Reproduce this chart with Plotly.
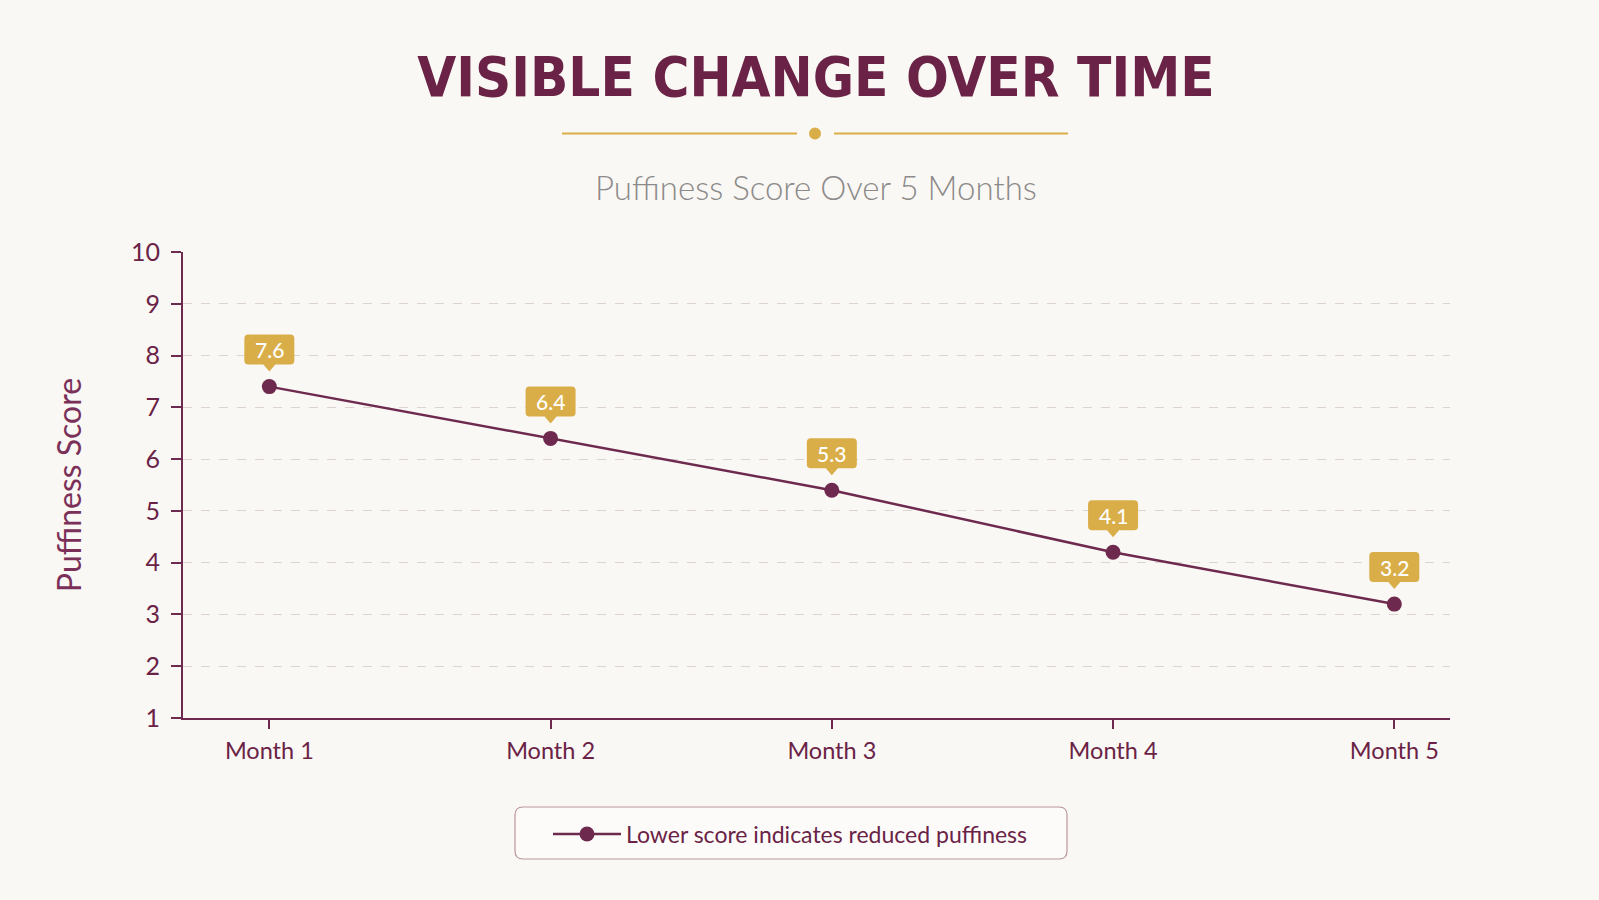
import plotly.graph_objects as go

# ---------------- data ----------------
months = ["Month 1", "Month 2", "Month 3", "Month 4", "Month 5"]
scores = [7.4, 6.4, 5.4, 4.2, 3.2]          # plotted marker positions
label_texts = ["7.6", "6.4", "5.3", "4.1", "3.2"]  # values shown in the badges
y_ticks = [1, 2, 3, 4, 5, 6, 7, 8, 9, 10]
series_name = "Lower score indicates reduced puffiness"
title_text = "VISIBLE CHANGE OVER TIME"
subtitle_text = "Puffiness Score Over 5 Months"
y_title = "Puffiness Score"

# ---------------- styling ----------------
W, H = 1599, 900
ML, MR, MT, MB = 183, 149, 252, 182
BG = "#faf8f4"
MAROON = "#6e2a4e"
DARK = "#6a2346"
GOLD = "#d9ae48"
FONT = "Lato"

pw = W - ML - MR
ph = H - MT - MB


def px(x):
    return (x - ML) / pw


def py(y):
    return (H - MB - y) / ph


fig = go.Figure()
x_idx = list(range(len(months)))
fig.add_trace(go.Scatter(
    x=x_idx, y=scores, mode="lines+markers", name=series_name,
    line=dict(color=MAROON, width=2.5),
    marker=dict(color=MAROON, size=15),
    hoverinfo="skip",
))

shapes = []
annotations = []

# value badges (rounded box + pointer), anchored at each point in pixels
bw, r = 25, 4
b0, b1 = 22, 52
badge = (f"M {-bw+r},{b0} L -6,{b0} L 0,{b0-7} L 6,{b0} L {bw-r},{b0} "
         f"Q {bw},{b0} {bw},{b0+r} L {bw},{b1-r} Q {bw},{b1} {bw-r},{b1} "
         f"L {-bw+r},{b1} Q {-bw},{b1} {-bw},{b1-r} L {-bw},{b0+r} "
         f"Q {-bw},{b0} {-bw+r},{b0} Z")
for i, (v, t) in enumerate(zip(scores, label_texts)):
    shapes.append(dict(type="path", xref="x", yref="y", xsizemode="pixel",
                       ysizemode="pixel", xanchor=i, yanchor=v, path=badge,
                       fillcolor=GOLD, line=dict(width=0), layer="above"))
    annotations.append(dict(x=i, y=v, xref="x", yref="y", text=t,
                            showarrow=False, yshift=(b0 + b1) / 2,
                            font=dict(family=FONT, size=21, color="white",
                                      weight=500)))

# decorative divider under title
dy = py(133.5)
shapes.append(dict(type="line", xref="paper", yref="paper", x0=px(562),
                   x1=px(797), y0=dy, y1=dy, line=dict(color=GOLD, width=2)))
shapes.append(dict(type="line", xref="paper", yref="paper", x0=px(834),
                   x1=px(1068), y0=dy, y1=dy, line=dict(color=GOLD, width=2)))
shapes.append(dict(type="circle", xref="paper", yref="paper", xsizemode="pixel",
                   ysizemode="pixel", xanchor=px(815), yanchor=dy, x0=-6, x1=6,
                   y0=-6, y1=6, fillcolor=GOLD, line=dict(width=0)))

# rounded legend frame
lx0, lx1, ly0, ly1, lr = 515, 1067, 807, 859, 8
wpx, hpx = lx1 - lx0, ly1 - ly0
frame = (f"M {lr},0 L {wpx-lr},0 Q {wpx},0 {wpx},{-lr} L {wpx},{-hpx+lr} "
         f"Q {wpx},{-hpx} {wpx-lr},{-hpx} L {lr},{-hpx} Q 0,{-hpx} 0,{-hpx+lr} "
         f"L 0,{-lr} Q 0,0 {lr},0 Z")
shapes.append(dict(type="path", xref="paper", yref="paper", xsizemode="pixel",
                   ysizemode="pixel", xanchor=px(lx0), yanchor=py(ly0),
                   path=frame, fillcolor="#fdfbf9",
                   line=dict(color="#b9959c", width=1.2), layer="below"))

annotations.append(dict(x=px(816), y=py(187), xref="paper", yref="paper",
                        xanchor="center", yanchor="middle",
                        text=subtitle_text, showarrow=False,
                        font=dict(family=FONT, size=33, color="#8c8a8a",
                                  weight=300)))

fig.update_layout(
    width=W, height=H,
    margin=dict(l=ML, r=MR, t=MT, b=MB, autoexpand=False),
    paper_bgcolor=BG, plot_bgcolor=BG,
    title=dict(text=f"<b>{title_text}</b>", x=816 / W, xanchor="center",
               y=1 - 76 / H, yanchor="middle", yref="container",
               font=dict(family="DejaVu Sans Condensed, Roboto, sans-serif",
                         size=56, color=DARK)),
    xaxis=dict(tickmode="array", tickvals=x_idx, ticktext=months,
               range=[-0.307, 4.198], showgrid=False, zeroline=False,
               showline=True, linecolor=MAROON, linewidth=2,
               ticks="outside", ticklen=9, tickwidth=1.5, tickcolor=MAROON,
               ticklabelstandoff=2,
               tickfont=dict(family=FONT, size=23.5, color=DARK)),
    yaxis=dict(range=[1, 10], tickvals=y_ticks, showgrid=True,
               gridcolor="#ddd3cf", griddash="dash", gridwidth=1,
               zeroline=False, showline=True, linecolor=MAROON, linewidth=2,
               ticks="outside", ticklen=10, tickwidth=1.5, tickcolor=MAROON,
               ticklabelstandoff=6,
               tickfont=dict(family=FONT, size=25, color=DARK),
               title=dict(text=y_title, standoff=40,
                          font=dict(family=FONT, size=32, color="#7b3059",
                                    weight=400))),
    showlegend=True,
    legend=dict(orientation="h", x=px(548), y=py(834), xanchor="left",
                yanchor="middle", bgcolor="rgba(0,0,0,0)", itemwidth=68,
                font=dict(family=FONT, size=23, color=DARK)),
    shapes=shapes, annotations=annotations,
)

fig.write_html("out.html")
